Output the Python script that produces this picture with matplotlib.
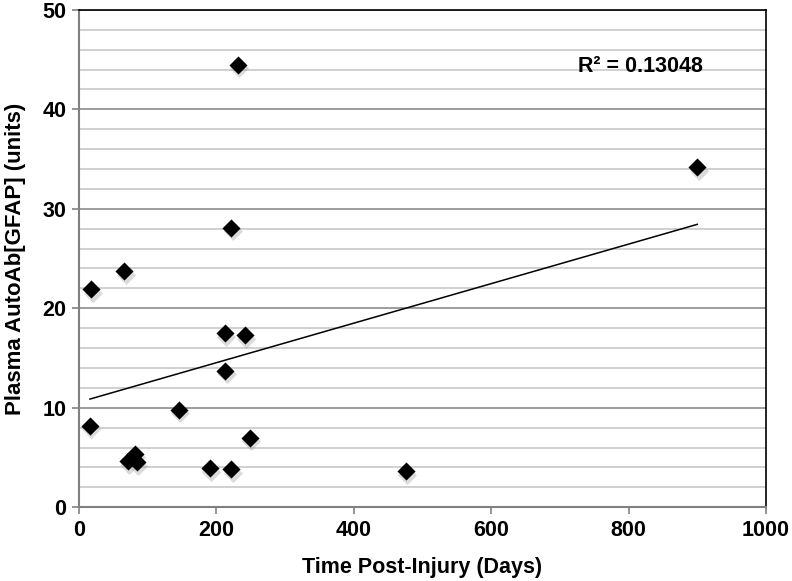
#!/usr/bin/env python3
"""Scatter of plasma AutoAb[GFAP] vs. time post-injury with linear trend line."""
import matplotlib

matplotlib.use("Agg")
import matplotlib.pyplot as plt
import numpy as np

plt.rcParams["font.family"] = ["Liberation Sans", "DejaVu Sans"]
plt.rcParams["font.weight"] = "bold"

# data
days = [16, 18, 66, 71, 81, 84, 145, 190, 212, 213, 222, 222, 231, 241, 249, 476, 900]
autoab = [8.2, 21.9, 23.7, 4.6, 5.4, 4.5, 9.8, 3.9, 17.5, 13.7, 28.1, 3.8, 44.5, 17.3, 7.0, 3.6, 34.2]
r2_label = "R² = 0.13048"

x = np.array(days, dtype=float)
y = np.array(autoab, dtype=float)
slope, icpt = np.polyfit(x, y, 1)

fig = plt.figure(figsize=(7.92, 5.81), dpi=100)
ax = fig.add_axes([0.0997, 0.127, 0.8675, 0.856])

ax.set_xlim(0, 1000)
ax.set_ylim(0, 50)
ax.set_xticks(np.arange(0, 1001, 200))
ax.set_yticks(np.arange(0, 51, 10))
ax.set_yticks(np.arange(0, 51, 2), minor=True)
ax.grid(True, which="minor", axis="y", color="#c8c8c8", lw=1.2)
ax.grid(True, which="major", axis="y", color="#8c8c8c", lw=1.2)
ax.set_axisbelow(True)
ax.tick_params(which="minor", length=0)
ax.tick_params(which="major", direction="out", length=5, width=1.2,
               color="#808080", labelsize=15.5, pad=4)

for side in ("left", "bottom"):
    ax.spines[side].set_color("#808080")
    ax.spines[side].set_linewidth(1.5)
for side in ("top", "right"):
    ax.spines[side].set_color("black")
    ax.spines[side].set_linewidth(1.2)

xs = np.array([x.min(), x.max()])
ax.plot(xs, slope * xs + icpt, color="black", lw=1.1, zorder=3)

# soft shadow then the diamonds
ax.scatter(x + 2, y - 0.35, marker="D", s=95, color="#999999", alpha=0.35,
           linewidths=0, zorder=3)
ax.scatter(x, y, marker="D", s=85, color="black", linewidths=0, zorder=4)

ax.text(0.908, 0.887, r2_label, transform=ax.transAxes, ha="right", va="center",
        fontsize=15.5, fontweight="bold")

ax.set_xlabel("Time Post-Injury (Days)", fontsize=15.5, fontweight="bold", labelpad=12)
ax.set_ylabel("Plasma AutoAb[GFAP] (units)", fontsize=16, fontweight="bold", labelpad=12)

fig.savefig("out.png", dpi=100)
